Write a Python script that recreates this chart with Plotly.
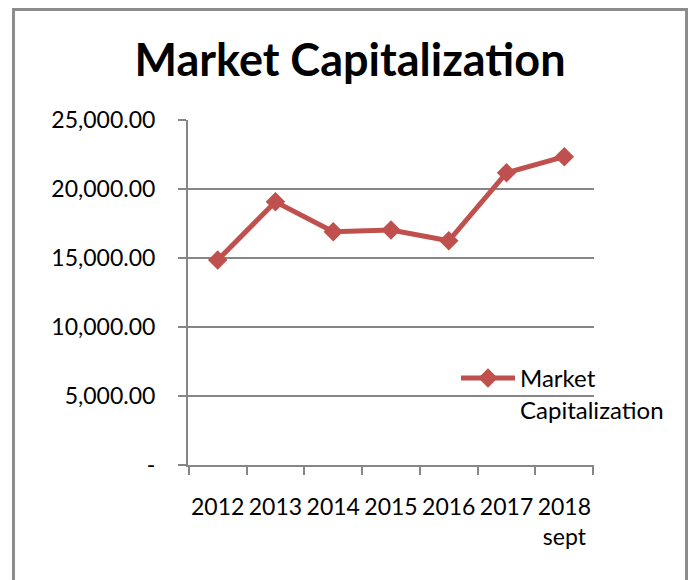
import plotly.graph_objects as go

years = ["2012", "2013", "2014", "2015", "2016", "2017", "2018<br>sept"]
market_cap = [14850, 19080, 16900, 17030, 16250, 21180, 22340]
y_tick_vals = [0, 5000, 10000, 15000, 20000, 25000]
y_tick_text = ["-", "5,000.00", "10,000.00", "15,000.00", "20,000.00", "25,000.00"]

W, H = 691, 580
L, R, T, B = 188, 97, 120, 115
pw, ph = W - L - R, H - T - B

def px_x(x):
    return (x - L) / pw

def px_y(y):
    return (H - B - y) / ph

RED = "#C0504D"
GRID = "#868686"
FONT = "Lato"

fig = go.Figure()
fig.add_trace(go.Scatter(
    x=years, y=market_cap, mode="lines+markers",
    name="Market<br>Capitalization",
    line=dict(color=RED, width=5),
    marker=dict(symbol="diamond", size=15, color=RED),
))

fig.update_layout(
    width=W, height=H,
    margin=dict(l=L, r=R, t=T, b=B),
    paper_bgcolor="white", plot_bgcolor="white",
    font=dict(family=FONT, color="black", size=22),
    title=dict(text="<b>Market Capitalization</b>", x=350 / W, xanchor="center",
               y=1 - 60 / H, yanchor="middle", yref="container",
               font=dict(family=FONT, size=45, color="black")),
    showlegend=True,
    legend=dict(x=px_x(456), y=px_y(356), xanchor="left", yanchor="top",
                bgcolor="rgba(0,0,0,0)", font=dict(size=24, family=FONT),
                valign="top", itemwidth=54),
    xaxis=dict(type="category", showgrid=False, showline=True, linecolor=GRID, linewidth=2,
               ticks="outside", ticklen=8, tickcolor=GRID, tickwidth=2,
               tickson="boundaries", ticklabelstandoff=20, tickangle=0,
               tickfont=dict(size=23, family=FONT), fixedrange=True),
    yaxis=dict(range=[0, 25000], tickvals=y_tick_vals, ticktext=y_tick_text,
               showgrid=True, gridcolor=GRID, gridwidth=2,
               showline=True, linecolor=GRID, linewidth=2, zeroline=False,
               ticks="outside", ticklen=8, tickcolor=GRID, tickwidth=2,
               ticklabelstandoff=18, tickfont=dict(size=23, family=FONT)),
    shapes=[dict(type="rect", xref="paper", yref="paper",
                 x0=px_x(13.5), x1=px_x(686.5), y0=px_y(620), y1=px_y(9.5),
                 line=dict(color="#8c8c8c", width=3), layer="below")],
)

fig.write_html("out.html")
